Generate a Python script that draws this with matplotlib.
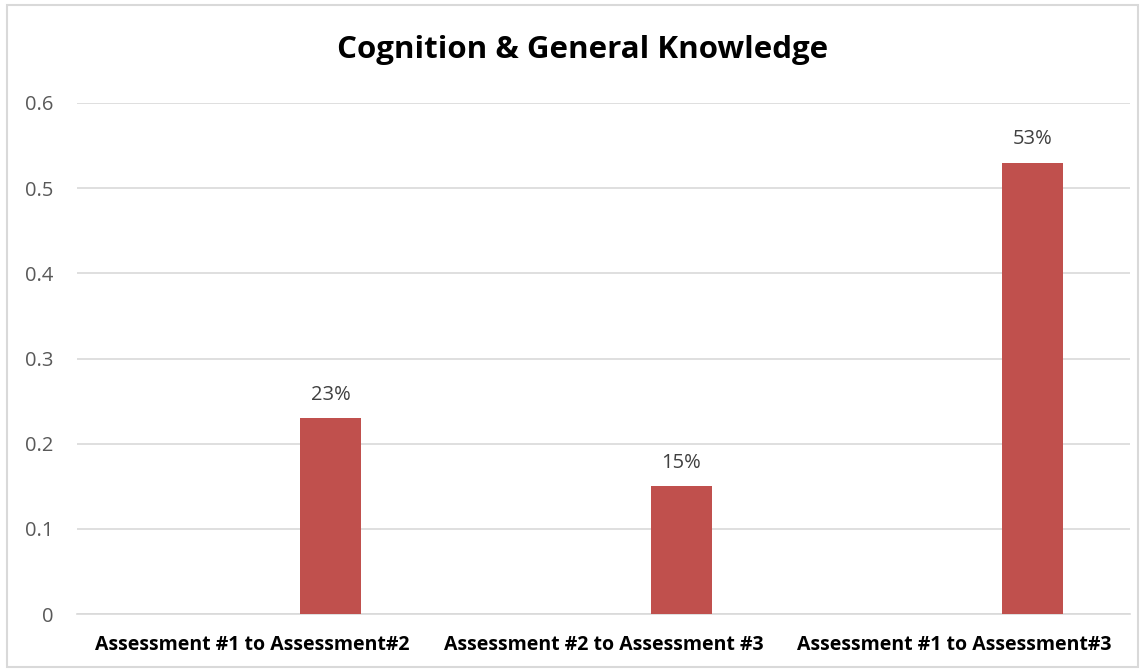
import matplotlib.pyplot as plt
from matplotlib.patches import Rectangle

categories = ['Assessment #1 to Assessment#2', 'Assessment #2 to Assessment #3',
              'Assessment #1 to Assessment#3']
values = [0.23, 0.15, 0.53]
labels = ['23%', '15%', '53%']

plt.rcParams['font.family'] = ['Open Sans', 'DejaVu Sans']

fig = plt.figure(figsize=(11.45, 6.71), dpi=100)
ax = fig.add_axes([0.0672, 0.0849, 0.9197, 0.7616])

pos = [i + 0.222 for i in range(len(categories))]
ax.bar(pos, values, width=0.174, color='#C0504D', zorder=3)
for x, v, s in zip(pos, values, labels):
    ax.annotate(s, (x, v), xytext=(0, 17), textcoords='offset points',
                ha='center', va='center', fontsize=14.5, color='#404040')

ax.set_xlim(-0.5, 2.5)
ax.set_ylim(0, 0.6)
ax.set_yticks([0, 0.1, 0.2, 0.3, 0.4, 0.5, 0.6])
ax.set_yticklabels(['0', '0.1', '0.2', '0.3', '0.4', '0.5', '0.6'])
ax.set_xticks(range(len(categories)))
ax.set_xticklabels(categories, fontsize=14, fontweight='bold', color='black')
ax.tick_params(axis='y', length=0, labelsize=14.5, labelcolor='#595959', pad=17)
ax.tick_params(axis='x', length=0, pad=15)
ax.grid(axis='y', color='#D9D9D9', linewidth=1.2, zorder=0)
for sp in ['top', 'right', 'left']:
    ax.spines[sp].set_visible(False)
ax.spines['bottom'].set_color('#D9D9D9')
ax.spines['bottom'].set_linewidth(1.2)

fig.text(0.509, 0.926, 'Cognition & General Knowledge', ha='center', va='center',
         fontsize=22.5, fontweight='bold', color='black')

fig.patches.append(Rectangle((0.006, 0.006), 0.988, 0.987, transform=fig.transFigure,
                             fill=False, edgecolor='#D9D9D9', linewidth=1.5))

fig.savefig('out.png', dpi=100)
